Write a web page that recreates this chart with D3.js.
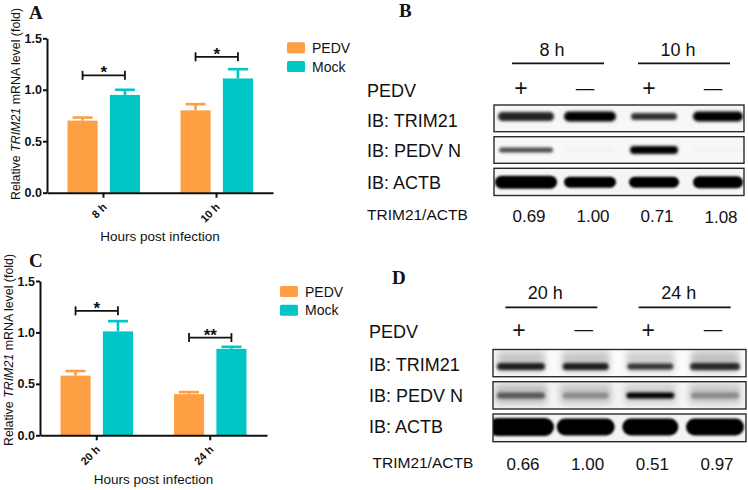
<!DOCTYPE html>
<html><head><meta charset="utf-8">
<script src="https://cdn.jsdelivr.net/npm/d3@7"></script>
<style>
html,body{margin:0;padding:0;background:#fff;}
svg{display:block;font-family:"Liberation Sans",Arial,sans-serif;}
</style></head>
<body>
<svg id="fig" width="748" height="490"></svg>
<script>
// ---------- data ----------
const seriesNames = ["PEDV", "Mock"];
const yTicks = [0, 0.5, 1.0, 1.5];

const categoriesA = ["8 h", "10 h"];
const pedvA = [0.70, 0.80];
const pedvErrA = [0.03, 0.06];
const mockA = [0.95, 1.11];
const mockErrA = [0.05, 0.09];
const sigA = ["*", "*"];
const sigLevelA = [1.14, 1.32];

const categoriesC = ["20 h", "24 h"];
const pedvC = [0.58, 0.40];
const pedvErrC = [0.045, 0.02];
const mockC = [1.01, 0.84];
const mockErrC = [0.10, 0.02];
const sigC = ["*", "**"];
const sigLevelC = [1.21, 0.95];

const laneSigns = ["+", "\u2014", "+", "\u2014"];
const rowLabels = ["IB: TRIM21", "IB: PEDV N", "IB: ACTB"];
const timesB = ["8 h", "10 h"];
const timesD = ["20 h", "24 h"];
const ratioB = ["0.69", "1.00", "0.71", "1.08"];
const ratioD = ["0.66", "1.00", "0.51", "0.97"];
const trimBandB = [0.85, 1.0, 0.8, 1.0];
const pedvNBandB = [0.7, 0.02, 1.0, 0.02];
const actbBandB = [1, 1, 1, 1];
const trimBandD = [0.85, 0.85, 0.75, 0.8];
const pedvNBandD = [0.55, 0.30, 1.0, 0.30];
const actbBandD = [1, 1, 1, 1];

// ---------- setup ----------
const svg = d3.select("#fig");
svg.append("rect").attr("width", 748).attr("height", 490).attr("fill", "#fff");
const colors = {PEDV: "#FD9F42", Mock: "#00C6C6"};
const defs = svg.append("defs");
[["blur1", 1.2], ["blur2", 1.8], ["blur3", 3.0]].forEach(([id, s]) => {
  defs.append("filter").attr("id", id).attr("x", "-30%").attr("y", "-60%").attr("width", "160%").attr("height", "220%")
    .append("feGaussianBlur").attr("stdDeviation", s);
});

function panelLetter(t, x, y) {
  svg.append("text").attr("x", x).attr("y", y).text(t)
    .attr("font-family", "'Liberation Serif','Times New Roman',serif")
    .attr("font-weight", "bold").attr("font-size", 19).attr("fill", "#111");
}

function barPanel(o) {
  const g = svg.append("g");
  const y = d3.scaleLinear().domain([0, 1.5]).range([o.y0, o.y15]);
  const x = d3.scaleBand().domain(o.cats).range([o.x0, o.x1]);
  const sub = d3.scaleBand().domain(seriesNames).range([20.5, 93]).paddingInner(0.29);
  const rows = [];
  o.cats.forEach((c, i) => {
    rows.push({cat: c, s: "PEDV", v: o.pedv[i], e: o.pedvErr[i]});
    rows.push({cat: c, s: "Mock", v: o.mock[i], e: o.mockErr[i]});
  });
  const cx = d => x(d.cat) + sub(d.s) + sub.bandwidth() / 2;
  g.selectAll(".err").data(rows).enter().append("line")
    .attr("x1", cx).attr("x2", cx).attr("y1", d => y(d.v)).attr("y2", d => y(d.v + d.e))
    .attr("stroke", d => colors[d.s]).attr("stroke-width", 2.6);
  g.selectAll(".cap").data(rows).enter().append("line")
    .attr("x1", d => cx(d) - 10).attr("x2", d => cx(d) + 10)
    .attr("y1", d => y(d.v + d.e)).attr("y2", d => y(d.v + d.e))
    .attr("stroke", d => colors[d.s]).attr("stroke-width", 2.6);
  g.selectAll(".bar").data(rows).enter().append("rect")
    .attr("x", d => x(d.cat) + sub(d.s)).attr("width", sub.bandwidth())
    .attr("y", d => y(d.v)).attr("height", d => y(0) - y(d.v))
    .attr("fill", d => colors[d.s]);
  const ya = g.append("g").attr("transform", `translate(${o.x0},0)`)
    .call(d3.axisLeft(y).tickValues(yTicks).tickFormat(d3.format(".1f")).tickSize(4).tickSizeOuter(0).tickPadding(1));
  ya.selectAll("text").attr("font-family", "'Liberation Sans',Arial,sans-serif").attr("font-size", 12.5).attr("font-weight", "bold").attr("fill", "#111");
  ya.selectAll("line").attr("stroke", "#111").attr("stroke-width", 2);
  ya.select(".domain").attr("stroke", "#111").attr("stroke-width", 2);
  const xa = g.append("g").attr("transform", `translate(0,${o.y0})`)
    .call(d3.axisBottom(x).tickSize(5).tickSizeOuter(0));
  xa.select(".domain").attr("stroke", "#111").attr("stroke-width", 2);
  xa.selectAll("line").attr("stroke", "#111").attr("stroke-width", 2);
  xa.selectAll("text").attr("y", 0).attr("dy", 0).attr("text-anchor", "end")
    .attr("transform", "translate(4,15) rotate(-45)")
    .attr("font-family", "'Liberation Sans',Arial,sans-serif").attr("font-size", 11).attr("font-weight", "bold").attr("fill", "#111");
  o.cats.forEach((c, i) => {
    const a = x(c) + sub("PEDV") + sub.bandwidth() / 2;
    const b = x(c) + sub("Mock") + sub.bandwidth() / 2;
    const yy = y(o.sigLevel[i]);
    g.append("line").attr("x1", a).attr("x2", b).attr("y1", yy).attr("y2", yy).attr("stroke", "#111").attr("stroke-width", 1.8);
    [a, b].forEach(xx => g.append("line").attr("x1", xx).attr("x2", xx).attr("y1", yy - 4.5).attr("y2", yy + 4.5).attr("stroke", "#111").attr("stroke-width", 1.8));
    g.append("text").attr("x", (a + b) / 2).attr("y", yy + 3).attr("text-anchor", "middle")
      .attr("font-size", 17).attr("font-weight", "bold").attr("fill", "#111").text(o.sig[i]);
  });
  const yt = g.append("text").attr("transform", `translate(${o.ytx},${o.yty}) rotate(-90)`)
    .attr("text-anchor", "middle").attr("font-size", 12.4).attr("fill", "#111");
  yt.append("tspan").text("Relative ");
  yt.append("tspan").attr("font-style", "italic").text("TRIM21");
  yt.append("tspan").text(" mRNA level (fold)");
  g.append("text").attr("x", (o.x0 + o.x1) / 2).attr("y", o.xty).attr("text-anchor", "middle")
    .attr("font-size", 13.5).attr("fill", "#111").text("Hours post infection");
  seriesNames.forEach((s, i) => {
    g.append("rect").attr("x", o.lx).attr("y", o.ly + i * 18.8).attr("width", 18).attr("height", 11).attr("rx", 1.5).attr("fill", colors[s]);
    g.append("text").attr("x", o.lx + 25).attr("y", o.ly + i * 18.8 + 10.5).attr("font-size", 14).attr("fill", "#111").text(s);
  });
}

barPanel({cats: categoriesA, pedv: pedvA, pedvErr: pedvErrA, mock: mockA, mockErr: mockErrA, sig: sigA, sigLevel: sigLevelA,
  x0: 47, x1: 273, y0: 192.7, y15: 38.3, ytx: 19.5, yty: 104, xty: 241, lx: 287, ly: 42.3});
barPanel({cats: categoriesC, pedv: pedvC, pedvErr: pedvErrC, mock: mockC, mockErr: mockErrC, sig: sigC, sigLevel: sigLevelC,
  x0: 40, x1: 267, y0: 435.3, y15: 281, ytx: 13, yty: 350, xty: 483.5, lx: 280, ly: 286});

panelLetter("A", 29, 19);
panelLetter("C", 29, 267);
panelLetter("B", 399, 17);
panelLetter("D", 392, 284);

// ---------- blots ----------
function blotPanel(o) {
  const g = svg.append("g");
  const lane = d3.scalePoint().domain(d3.range(4)).range(o.laneRange);
  o.times.forEach((t, k) => {
    const mid = (lane(2 * k) + lane(2 * k + 1)) / 2 + o.hdrShift[k];
    g.append("line").attr("x1", mid - 46).attr("x2", mid + 46).attr("y1", o.hdrLineY).attr("y2", o.hdrLineY)
      .attr("stroke", "#111").attr("stroke-width", 1.8);
    g.append("text").attr("x", mid - 6).attr("y", o.hdrY).attr("text-anchor", "middle")
      .attr("font-size", 18).attr("fill", "#111").text(t);
  });
  laneSigns.forEach((s, i) => {
    const plus = s === "+";
    g.append("text").attr("x", lane(i) + o.signShift).attr("y", plus ? o.signY + 1 : o.signY - 1.5).attr("text-anchor", "middle")
      .attr("font-size", plus ? 23 : 18.5).attr("fill", "#111").text(s);
  });
  g.append("text").attr("x", o.labX).attr("y", o.signY + 1.5).attr("font-size", 18).attr("fill", "#111").text("PEDV");
  rowLabels.forEach((r, j) => {
    g.append("text").attr("x", o.labX).attr("y", o.rowLabY[j]).attr("font-size", 18).attr("fill", "#111").text(r);
  });
  g.append("text").attr("x", o.ratioLabX).attr("y", o.ratioY - 2).attr("font-size", 15.5).attr("fill", "#111").text("TRIM21/ACTB");
  o.ratios.forEach((r, i) => {
    g.append("text").attr("x", lane(i) + o.numShift).attr("y", o.ratioY + (i === 3 ? o.lastDrop : 0)).attr("text-anchor", "middle")
      .attr("font-size", 17).attr("fill", "#111").text(r);
  });
  o.rows.forEach((row, j) => {
    const [top, bot] = row.box;
    const cid = o.id + "clip" + j;
    defs.append("clipPath").attr("id", cid).append("rect")
      .attr("x", o.boxX[0]).attr("y", top).attr("width", o.boxX[1] - o.boxX[0]).attr("height", bot - top);
    const rg = g.append("g").attr("clip-path", `url(#${cid})`);
    rg.append("rect").attr("x", o.boxX[0]).attr("y", top).attr("width", o.boxX[1] - o.boxX[0]).attr("height", bot - top)
      .attr("fill", row.bg);
    if (row.haze) {
      rg.selectAll(".haze").data(row.haze).enter().append("rect")
        .attr("x", (d, i) => lane(i) - row.hw / 2).attr("width", row.hw)
        .attr("y", row.hazeY[0]).attr("height", row.hazeY[1] - row.hazeY[0])
        .attr("rx", 4).attr("fill", "#555").attr("opacity", d => d).attr("filter", "url(#blur3)");
    }
    rg.selectAll(".band").data(row.vals).enter().append("rect")
      .attr("x", (d, i) => lane(i) - row.w[i] / 2).attr("width", (d, i) => row.w[i])
      .attr("y", (d, i) => row.cy - row.h[i] / 2).attr("height", (d, i) => row.h[i])
      .attr("rx", (d, i) => row.h[i] / 2)
      .attr("fill", "#050505").attr("opacity", d => d).attr("filter", `url(#${row.blur})`);
    g.append("rect").attr("x", o.boxX[0]).attr("y", top).attr("width", o.boxX[1] - o.boxX[0]).attr("height", bot - top)
      .attr("fill", "none").attr("stroke", "#2a2a2a").attr("stroke-width", 1.4);
  });
}

blotPanel({id: "B", times: timesB, ratios: ratioB, laneRange: [526, 718], hdrShift: [0, -2],
  hdrLineY: 63.3, hdrY: 56, signY: 95, signShift: -5, labX: 367, rowLabY: [127, 157, 188.5],
  ratioLabX: 367, ratioY: 221.5, numShift: 3, lastDrop: 1.5, boxX: [494, 744],
  rows: [
    {box: [105, 131.7], bg: "#f7f7f7", vals: trimBandB, w: [56, 52, 46, 50], h: [9, 10, 7, 10], cy: 116.5, blur: "blur2"},
    {box: [136.7, 163.3], bg: "#f8f8f8", vals: pedvNBandB, w: [54, 50, 48, 50], h: [5, 5, 8, 5], cy: 150, blur: "blur2"},
    {box: [168.3, 195.5], bg: "#f5f5f5", vals: actbBandB, w: [62, 52, 50, 50], h: [13, 11, 11, 12], cy: 182.2, blur: "blur1"}
  ]});

blotPanel({id: "D", times: timesD, ratios: ratioD, laneRange: [521, 715], hdrShift: [-2, 2],
  hdrLineY: 307.3, hdrY: 298.5, signY: 336.5, signShift: -2, labX: 369, rowLabY: [371, 401.7, 433.3],
  ratioLabX: 372.5, ratioY: 469.5, numShift: 2, lastDrop: 0.5, boxX: [493, 746],
  rows: [
    {box: [349.5, 376.7], bg: "#fbfbfb", haze: [0.30, 0.30, 0.26, 0.34], hazeY: [351, 372], hw: 48,
      vals: trimBandD, w: [48, 46, 46, 50], h: [7, 7, 6, 7], cy: 366.5, blur: "blur2"},
    {box: [381.7, 409], bg: "#f4f4f4", haze: [0.32, 0.28, 0.22, 0.28], hazeY: [384, 404], hw: 52,
      vals: pedvNBandD, w: [48, 46, 48, 48], h: [6, 6, 6, 6], cy: 395.5, blur: "blur2"},
    {box: [414, 441.7], bg: "#f3f3f3", vals: actbBandD, w: [66, 58, 56, 58], h: [18, 17, 17, 17], cy: 427, blur: "blur1"}
  ]});
</script>
</body></html>
